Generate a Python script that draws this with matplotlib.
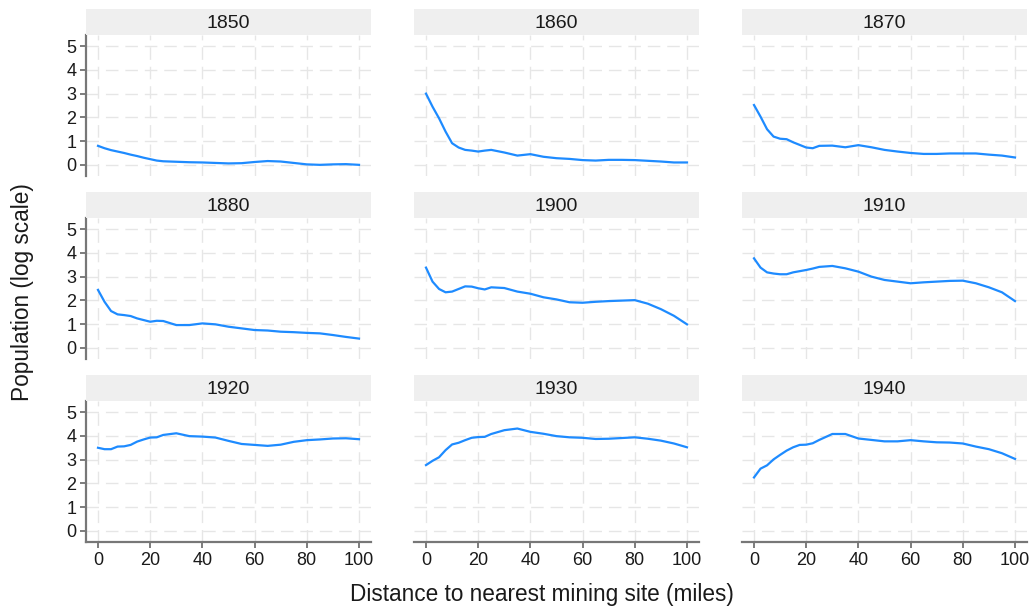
import numpy as np
import matplotlib
matplotlib.use('Agg')
import matplotlib.pyplot as plt

plt.rcParams['font.family'] = ['Liberation Sans', 'DejaVu Sans']

# distance to nearest mining site (miles), sample points
dist = [0, 2.5, 5, 7.5, 10, 12.5, 15, 17.5, 20, 22.5, 25, 30, 35, 40, 45,
        50, 55, 60, 65, 70, 75, 80, 85, 90, 95, 100]

years = ['1850', '1860', '1870', '1880', '1900', '1910', '1920', '1930', '1940']

pop_1850 = [0.80, 0.70, 0.62, 0.56, 0.50, 0.43, 0.37, 0.30, 0.24, 0.18, 0.15, 0.13,
            0.11, 0.10, 0.08, 0.06, 0.07, 0.12, 0.16, 0.14, 0.08, 0.02, 0.00,
            0.02, 0.03, 0.00]
pop_1860 = [3.00, 2.45, 1.96, 1.40, 0.91, 0.73, 0.63, 0.60, 0.56, 0.60, 0.63, 0.52,
            0.39, 0.45, 0.34, 0.28, 0.25, 0.20, 0.18, 0.21, 0.21, 0.20, 0.17,
            0.14, 0.10, 0.10]
pop_1870 = [2.52, 2.03, 1.50, 1.19, 1.10, 1.08, 0.95, 0.84, 0.73, 0.70, 0.80, 0.81,
            0.74, 0.83, 0.74, 0.63, 0.56, 0.50, 0.46, 0.46, 0.48, 0.48, 0.48,
            0.43, 0.39, 0.31]
pop_1880 = [2.44, 1.94, 1.55, 1.41, 1.38, 1.34, 1.24, 1.17, 1.10, 1.14, 1.13, 0.96,
            0.96, 1.03, 0.99, 0.89, 0.82, 0.75, 0.73, 0.68, 0.66, 0.63, 0.61,
            0.54, 0.46, 0.39]
pop_1900 = [3.38, 2.79, 2.48, 2.34, 2.37, 2.48, 2.59, 2.58, 2.51, 2.46, 2.55, 2.52,
            2.37, 2.28, 2.13, 2.04, 1.92, 1.90, 1.94, 1.97, 1.99, 2.01, 1.86,
            1.63, 1.35, 0.99]
pop_1910 = [3.77, 3.38, 3.18, 3.13, 3.10, 3.10, 3.18, 3.23, 3.28, 3.34, 3.41, 3.45,
            3.35, 3.21, 3.00, 2.86, 2.79, 2.72, 2.76, 2.79, 2.82, 2.83, 2.72,
            2.55, 2.34, 1.97]
pop_1920 = [3.50, 3.44, 3.44, 3.55, 3.56, 3.62, 3.76, 3.85, 3.93, 3.94, 4.04, 4.11,
            3.99, 3.97, 3.93, 3.79, 3.66, 3.62, 3.58, 3.63, 3.75, 3.82, 3.85,
            3.89, 3.90, 3.86]
pop_1930 = [2.77, 2.95, 3.10, 3.40, 3.64, 3.71, 3.82, 3.92, 3.95, 3.96, 4.08, 4.24,
            4.31, 4.17, 4.09, 3.99, 3.94, 3.92, 3.87, 3.88, 3.91, 3.94, 3.88,
            3.80, 3.68, 3.52]
pop_1940 = [2.25, 2.62, 2.76, 3.01, 3.20, 3.38, 3.52, 3.62, 3.63, 3.69, 3.83, 4.08,
            4.08, 3.89, 3.83, 3.77, 3.77, 3.82, 3.77, 3.73, 3.72, 3.68, 3.55,
            3.44, 3.27, 3.03]

series = [pop_1850, pop_1860, pop_1870, pop_1880, pop_1900, pop_1910,
          pop_1920, pop_1930, pop_1940]

W, H = 1033, 610
fig = plt.figure(figsize=(W / 100, H / 100), dpi=100)

col_left = [86, 414, 742]
row_top = [35, 218, 401]
pw, ph = 285, 141
strip_h = 26

for i, yr in enumerate(years):
    r, c = divmod(i, 3)
    x0, y0 = col_left[c], row_top[r]
    ax = fig.add_axes([x0 / W, 1 - (y0 + ph) / H, pw / W, ph / H])
    ax.plot(dist, series[i], color='#1E8BFF', linewidth=1.6, zorder=3)
    ax.set_xlim(-4.6, 104.6)
    ax.set_ylim(-0.47, 5.47)
    ax.set_xticks([0, 20, 40, 60, 80, 100])
    ax.set_yticks([0, 1, 2, 3, 4, 5])
    ax.grid(True, color='#E6E6E6', linestyle=(0, (9, 5)), linewidth=1.0)
    ax.set_axisbelow(True)
    for s in ax.spines.values():
        s.set_visible(False)
    ax.tick_params(colors='#666666', labelcolor='#1A1A1A', labelsize=13,
                   length=4, width=1.2, pad=3)
    if c == 0:
        ax.spines['left'].set_visible(True)
        ax.spines['left'].set_color('#777777')
        ax.spines['left'].set_linewidth(1.6)
    else:
        ax.tick_params(axis='y', left=False, labelleft=False)
    if r == 2:
        ax.spines['bottom'].set_visible(True)
        ax.spines['bottom'].set_color('#777777')
        ax.spines['bottom'].set_linewidth(1.6)
    else:
        ax.tick_params(axis='x', bottom=False, labelbottom=False)

    # facet strip
    sax = fig.add_axes([x0 / W, 1 - y0 / H, pw / W, strip_h / H])
    sax.set_facecolor('#EFEFEF')
    sax.set_xticks([])
    sax.set_yticks([])
    for s in sax.spines.values():
        s.set_visible(False)
    sax.text(0.5, 0.45, yr, ha='center', va='center', fontsize=14,
             color='#1A1A1A', transform=sax.transAxes)

fig.text(23 / W, 1 - 292 / H, 'Population (log scale)', rotation=90,
         ha='center', va='center', fontsize=16.3, color='#1A1A1A')
fig.text(542 / W, 1 - 594 / H, 'Distance to nearest mining site (miles)',
         ha='center', va='center', fontsize=16.3, color='#1A1A1A')

fig.savefig('out.png', dpi=100)
